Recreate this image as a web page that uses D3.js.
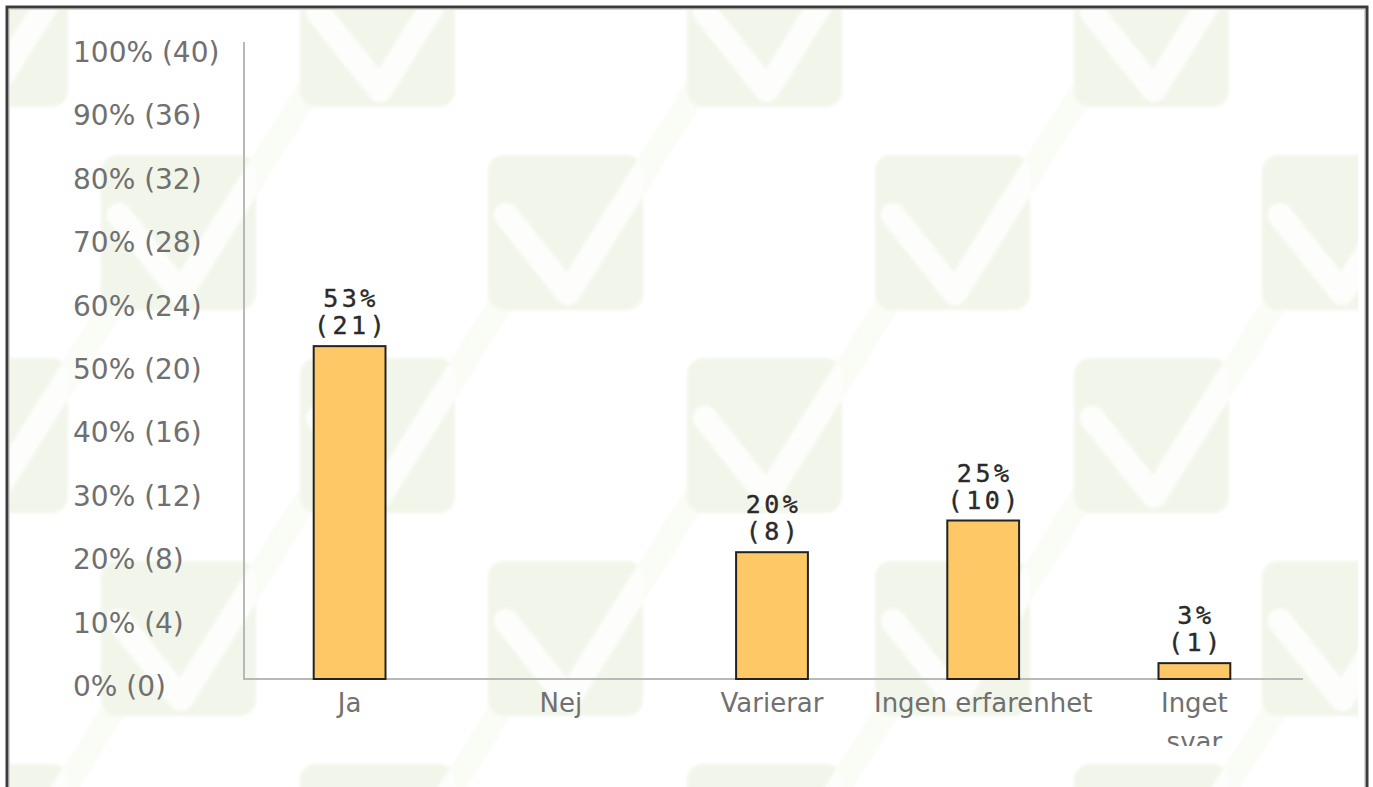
<!DOCTYPE html>
<html>
<head>
<meta charset="utf-8">
<script src="https://cdn.jsdelivr.net/npm/d3@7/dist/d3.min.js"></script>
<style>
  body { margin: 0; background: #fff; }
  svg { display: block; }
</style>
</head>
<body>
<svg id="chart" width="1373" height="787"></svg>
<script>
// answers and how many picked each one (40 replies)
const categories = ['Ja', 'Nej', 'Varierar', 'Ingen erfarenhet', 'Inget svar'];
const counts = [21, 0, 8, 10, 1];
const total = 40;
const yTickValues = [0, 4, 8, 12, 16, 20, 24, 28, 32, 36, 40];
// the long last label wraps in the original
const xLabelLines = [['Ja'], ['Nej'], ['Varierar'], ['Ingen erfarenhet'], ['Inget', 'svar']];

const W = 1373, H = 787;
const svg = d3.select('#chart');

const pct = v => Math.round(v / total * 100);

// background: faint green tiles with white check marks
const defs = svg.append('defs');
defs.append('clipPath').attr('id', 'inner')
  .append('rect').attr('x', 9).attr('y', 9).attr('width', W - 18 - 6).attr('height', H);
defs.append('filter').attr('id', 'soft')
  .append('feGaussianBlur').attr('stdDeviation', 1.5);

const bg = svg.append('g').attr('clip-path', 'url(#inner)')
  .append('g').attr('filter', 'url(#soft)');
const TILE = 155, STEP_X = 387, STEP_Y = 406;
const tiles = [];
for (let r = -1; r < 3; r++) {
  for (let c = -1; c < 5; c++) {
    tiles.push({ x: 300 + c * STEP_X, y: -48 + r * STEP_Y });          // row A
    tiles.push({ x: 101 + c * STEP_X, y: -48 + STEP_Y / 2 + r * STEP_Y }); // row B
  }
}
const vertex = [80, 138];
const shortStart = [18, 60];
const longEnd = [80 + 120 * 1.35, 138 - 191 * 1.35];

const checkPath = t => `M${t.x + shortStart[0]},${t.y + shortStart[1]}`
  + `L${t.x + vertex[0]},${t.y + vertex[1]}`
  + `L${t.x + longEnd[0]},${t.y + longEnd[1]}`;

// long arm sticking out of the tile, barely visible
bg.selectAll('path.band')
  .data(tiles)
  .enter()
  .append('path')
  .attr('class', 'band')
  .attr('d', checkPath)
  .attr('fill', 'none')
  .attr('stroke', '#fafcf6')
  .attr('stroke-width', 24)
  .attr('stroke-linecap', 'round')
  .attr('stroke-linejoin', 'round');

const tileG = bg.selectAll('g.tile')
  .data(tiles)
  .enter()
  .append('g')
  .attr('class', 'tile');

tileG.append('clipPath')
  .attr('id', (d, i) => `tile-${i}`)
  .append('rect')
  .attr('x', d => d.x).attr('y', d => d.y)
  .attr('width', TILE).attr('height', TILE)
  .attr('rx', 16);

tileG.append('rect')
  .attr('x', d => d.x).attr('y', d => d.y)
  .attr('width', TILE).attr('height', TILE)
  .attr('rx', 16)
  .attr('fill', '#f2f6ea');

tileG.append('path')
  .attr('d', checkPath)
  .attr('clip-path', (d, i) => `url(#tile-${i})`)
  .attr('fill', 'none')
  .attr('stroke', '#fdfefc')
  .attr('stroke-width', 24)
  .attr('stroke-linecap', 'round')
  .attr('stroke-linejoin', 'round');

// frame
svg.append('rect')
  .attr('x', 7).attr('y', 7)
  .attr('width', 1360).attr('height', H + 40)
  .attr('fill', 'none')
  .attr('stroke', '#3c3c3c')
  .attr('stroke-width', 3);
svg.append('path')
  .attr('d', `M9.5,${H}V9.5H1364.5V${H}`)
  .attr('fill', 'none')
  .attr('stroke', '#d4d4d4')
  .attr('stroke-width', 1);

// scales
const x = d3.scaleBand()
  .domain(categories)
  .range([244, 1300])
  .paddingInner(0.66)
  .paddingOuter(0.33);

const y = d3.scaleLinear()
  .domain([0, total])
  .range([679, 45]);

// y tick labels sit a little below their value in the original
svg.append('g')
  .selectAll('text')
  .data(yTickValues)
  .enter()
  .append('text')
  .attr('x', 73)
  .attr('y', d => y(d) + 17)
  .attr('font-family', 'DejaVu Sans, Verdana, sans-serif')
  .attr('font-size', 28)
  .attr('fill', '#707070')
  .text(d => `${pct(d)}% (${d})`);

// axis lines
svg.append('line')
  .attr('x1', 244).attr('x2', 244)
  .attr('y1', 42).attr('y2', 680)
  .attr('stroke', '#b8b8b8').attr('stroke-width', 2);
svg.append('line')
  .attr('x1', 243).attr('x2', 1303)
  .attr('y1', 679).attr('y2', 679)
  .attr('stroke', '#b8b8b8').attr('stroke-width', 2);

// bars
const rows = categories.map((c, i) => ({ cat: c, value: counts[i], lines: xLabelLines[i] }));

svg.append('g')
  .selectAll('rect')
  .data(rows.filter(d => d.value > 0))
  .enter()
  .append('rect')
  .attr('x', d => x(d.cat))
  .attr('y', d => y(d.value))
  .attr('width', x.bandwidth())
  .attr('height', d => y(0) - y(d.value))
  .attr('fill', '#fdc865')
  .attr('stroke', '#222')
  .attr('stroke-width', 2);

// value labels, two lines above each bar
const vl = svg.append('g')
  .selectAll('text')
  .data(rows.filter(d => d.value > 0))
  .enter()
  .append('text')
  .attr('text-anchor', 'middle')
  .attr('font-family', 'DejaVu Sans Mono, monospace')
  .attr('font-size', 25)
  .attr('letter-spacing', 3.5)
  .attr('fill', '#2a2a2a')
  .attr('stroke', '#2a2a2a')
  .attr('stroke-width', 0.4);
vl.append('tspan')
  .attr('x', d => x(d.cat) + x.bandwidth() / 2 + 1.5)
  .attr('y', d => y(d.value) - 39)
  .text(d => `${pct(d.value)}%`);
vl.append('tspan')
  .attr('x', d => x(d.cat) + x.bandwidth() / 2 + 1.5)
  .attr('y', d => y(d.value) - 12)
  .text(d => `(${d.value})`);

// category labels, clipped like the original
defs.append('clipPath').attr('id', 'xlab')
  .append('rect').attr('x', 0).attr('y', 682).attr('width', W).attr('height', 64);

const xl = svg.append('g')
  .attr('clip-path', 'url(#xlab)')
  .selectAll('text')
  .data(rows)
  .enter()
  .append('text')
  .attr('text-anchor', 'middle')
  .attr('font-family', 'DejaVu Sans, Verdana, sans-serif')
  .attr('font-size', 26)
  .attr('fill', '#707070');
xl.selectAll('tspan')
  .data(d => d.lines.map(l => ({ cat: d.cat, l })))
  .enter()
  .append('tspan')
  .attr('x', d => x(d.cat) + x.bandwidth() / 2)
  .attr('y', (d, i) => 712 + i * 39)
  .text(d => d.l);
</script>
</body>
</html>
